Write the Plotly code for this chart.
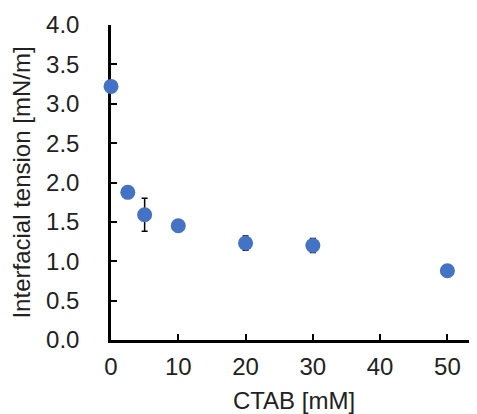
import plotly.graph_objects as go

ctab = [0, 2.5, 5, 10, 20, 30, 50]
tension = [3.22, 1.875, 1.59, 1.45, 1.23, 1.20, 0.88]
tension_err = [0.04, 0.03, 0.21, 0.03, 0.09, 0.09, 0.03]

y_ticks = [0, 0.5, 1.0, 1.5, 2.0, 2.5, 3.0, 3.5, 4.0]
x_ticks = [0, 10, 20, 30, 40, 50]

fig = go.Figure(go.Scatter(
    x=ctab, y=tension, mode="markers",
    marker=dict(size=15, color="#4472C4"),
    error_y=dict(type="data", array=tension_err, visible=True,
                 color="black", thickness=1.5, width=3),
    cliponaxis=False,
))

font = "Liberation Sans, Arial, sans-serif"
fig.update_layout(
    width=469, height=406,
    margin=dict(l=103, r=0, t=17, b=74, autoexpand=False),
    plot_bgcolor="white", paper_bgcolor="white",
    showlegend=False,
    font=dict(family=font, size=24, color="#222"),
)
fig.update_xaxes(
    range=[0, 54.4], tickvals=x_ticks, ticktext=[str(v) for v in x_ticks],
    showgrid=False, zeroline=False,
    showline=True, linecolor="black", linewidth=2.5,
    ticks="inside", ticklen=6, tickwidth=2, tickcolor="black",
    ticklabelstandoff=3,
    title=dict(text="CTAB [mM]", standoff=20, font=dict(size=24)),
    layer="below traces",
)
fig.update_yaxes(
    range=[0, 4.0], tickvals=y_ticks, ticktext=[f"{v:.1f}" for v in y_ticks],
    showgrid=False, zeroline=False,
    showline=True, linecolor="black", linewidth=2.5,
    ticks="inside", ticklen=6, tickwidth=2, tickcolor="black",
    ticklabelstandoff=24,
    title=dict(text="Interfacial tension [mN/m]", standoff=10, font=dict(size=24)),
    layer="below traces",
)

fig.write_html("out.html")
